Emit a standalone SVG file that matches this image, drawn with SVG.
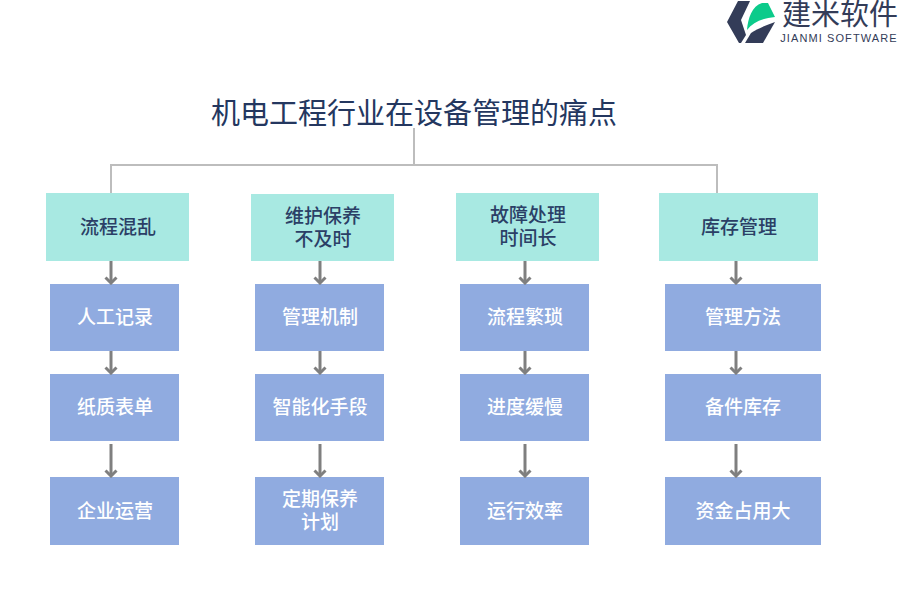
<svg xmlns="http://www.w3.org/2000/svg" width="900" height="600" viewBox="0 0 900 600">
<style>
text{font-family:"Noto Sans CJK SC","Liberation Sans",sans-serif;text-anchor:middle}
.h{fill:#a8e9e2}.b{fill:#90abe0}
.ht{font-size:19px;fill:#2b3f66;font-weight:500}
.bt{font-size:19px;fill:#fff;font-weight:500}
.tree{fill:none;stroke:#bdbdbd;stroke-width:2}
.arr{fill:none;stroke:#7f7f7f;stroke-width:3;marker-end:url(#a)}
</style>
<defs>
<marker id="a" markerUnits="userSpaceOnUse" markerWidth="14" markerHeight="10" refX="7" refY="8" orient="0" viewBox="0 0 14 10"><path d="M1.500 2.500L7 8L12.500 2.500" fill="none" stroke="#7f7f7f" stroke-width="3"/></marker>
</defs>
<rect width="900" height="600" fill="#fff"/>
<g id="logo">
<path d="M738 1H750L741 20L746 35L741 43H739L727 22Z" fill="#333c58"/>
<path d="M745 43L751 33C757 29 766 25 775 22L763 43Z" fill="#333c58"/>
<path d="M747 30C748 18 752 6 762 3H768L775 17C763 18 753 22 747 30Z" fill="#0ccb8b"/>
<text x="840" y="25" style="font-size:29px;fill:#333c58">建米软件</text>
<text x="839" y="42" style="font-family:'Liberation Sans',sans-serif;font-size:11px;letter-spacing:1.100px;fill:#333c58">JIANMI SOFTWARE</text>
</g>
<g id="title"><text x="414" y="124" style="font-size:29px;fill:#24375f">机电工程行业在设备管理的痛点</text></g>
<g id="n1"><rect class="h" x="46" y="193" width="143" height="68"/><text class="ht" x="118" y="234">流程混乱</text></g>
<g id="n2"><rect class="h" x="251" y="194" width="143" height="67"/><text class="ht" y="223"><tspan x="323">维护保养</tspan><tspan x="323" dy="23">不及时</tspan></text></g>
<g id="n3"><rect class="h" x="456" y="193" width="143" height="68"/><text class="ht" y="222"><tspan x="528">故障处理</tspan><tspan x="528" dy="23">时间长</tspan></text></g>
<g id="n4"><rect class="h" x="659" y="193" width="159" height="68"/><text class="ht" x="739" y="234">库存管理</text></g>
<g id="a1"><rect class="b" x="50" y="284" width="129" height="67"/><text class="bt" x="115" y="324">人工记录</text></g>
<g id="a2"><rect class="b" x="50" y="374" width="129" height="67"/><text class="bt" x="115" y="414">纸质表单</text></g>
<g id="a3"><rect class="b" x="50" y="477" width="129" height="68"/><text class="bt" x="115" y="518">企业运营</text></g>
<g id="b1"><rect class="b" x="255" y="284" width="129" height="67"/><text class="bt" x="320" y="324">管理机制</text></g>
<g id="b2"><rect class="b" x="255" y="374" width="129" height="67"/><text class="bt" x="320" y="414">智能化手段</text></g>
<g id="b3"><rect class="b" x="255" y="477" width="129" height="68"/><text class="bt" y="506"><tspan x="320">定期保养</tspan><tspan x="320" dy="23">计划</tspan></text></g>
<g id="c1"><rect class="b" x="460" y="284" width="129" height="67"/><text class="bt" x="525" y="324">流程繁琐</text></g>
<g id="c2"><rect class="b" x="460" y="374" width="129" height="67"/><text class="bt" x="525" y="414">进度缓慢</text></g>
<g id="c3"><rect class="b" x="460" y="477" width="129" height="68"/><text class="bt" x="525" y="518">运行效率</text></g>
<g id="d1"><rect class="b" x="665" y="284" width="156" height="67"/><text class="bt" x="743" y="324">管理方法</text></g>
<g id="d2"><rect class="b" x="665" y="374" width="156" height="67"/><text class="bt" x="743" y="414">备件库存</text></g>
<g id="d3"><rect class="b" x="665" y="477" width="156" height="68"/><text class="bt" x="743" y="518">资金占用大</text></g>
<g id="connectors">
<path class="tree" d="M414 128V165M111 193V165H717V193"/>
<path class="arr" d="M111 261V283"/><path class="arr" d="M111 351V373"/><path class="arr" d="M111 444V476"/>
<path class="arr" d="M320 261V283"/><path class="arr" d="M320 351V373"/><path class="arr" d="M320 444V476"/>
<path class="arr" d="M525 261V283"/><path class="arr" d="M525 351V373"/><path class="arr" d="M525 444V476"/>
<path class="arr" d="M736 261V283"/><path class="arr" d="M736 351V373"/><path class="arr" d="M736 444V476"/>
</g>
</svg>
